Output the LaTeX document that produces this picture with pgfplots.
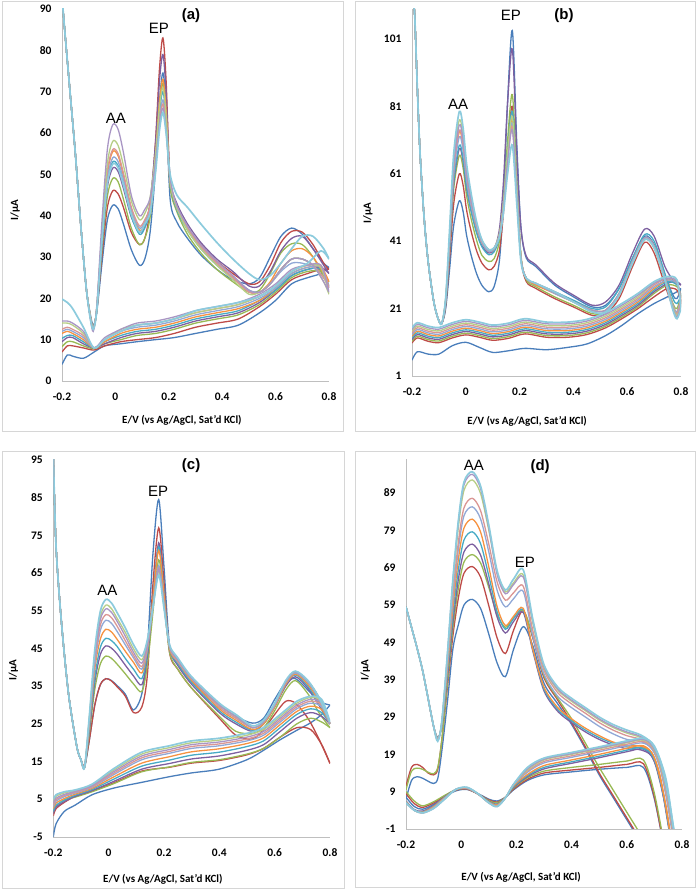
\documentclass[border=0pt]{standalone}
\usepackage{fontspec}
\setmainfont{Carlito}
\newfontfamily\lab{Liberation Sans}
\usepackage{pgfplots}
\usepackage{pgfplotstable}
\pgfplotsset{compat=1.18}
\definecolor{s1}{HTML}{4A7EBB}
\definecolor{s2}{HTML}{BE4B48}
\definecolor{s3}{HTML}{98B954}
\definecolor{s4}{HTML}{7D60A0}
\definecolor{s5}{HTML}{46AAC5}
\definecolor{s6}{HTML}{F69240}
\definecolor{s7}{HTML}{91A8D6}
\definecolor{s8}{HTML}{DA9694}
\definecolor{s9}{HTML}{B7CE86}
\definecolor{s10}{HTML}{A996C4}
\definecolor{s11}{HTML}{8CCBDD}
\tikzset{
 plab/.style={font=\lab\fontsize{15}{15}\selectfont},
 ptitle/.style={font=\lab\bfseries\fontsize{15}{15}\selectfont},
}
\pgfplotsset{
 ln1/.style={draw=s1,line width=1.3pt,smooth},
 ln2/.style={draw=s2,line width=1.3pt,smooth},
 ln3/.style={draw=s3,line width=1.3pt,smooth},
 ln4/.style={draw=s4,line width=1.3pt,smooth},
 ln5/.style={draw=s5,line width=1.3pt,smooth},
 ln6/.style={draw=s6,line width=1.3pt,smooth},
 ln7/.style={draw=s7,line width=1.3pt,smooth},
 ln8/.style={draw=s8,line width=1.3pt,smooth},
 ln9/.style={draw=s9,line width=1.3pt,smooth},
 ln10/.style={draw=s10,line width=1.3pt,smooth},
 ln11/.style={draw=s11,line width=1.7pt,smooth},
 cvaxis/.style={
  scale only axis, anchor=south west,
  xmin=-0.2, xmax=0.8,
  axis x line=bottom, axis y line=left,
  axis line style={draw=black!25, line width=0.9pt, -},
  major tick length=0pt,
  xtick={-0.2,0,0.2,0.4,0.6,0.8},
  xticklabels={-0.2,0,0.2,0.4,0.6,0.8},
  tick label style={font=\bfseries\fontsize{11.5}{13}\selectfont},
  xticklabel style={yshift=-8pt},
  yticklabel style={xshift=-7pt},
  label style={font=\bfseries\fontsize{11}{13}\selectfont},
  xlabel={E/V (vs Ag/AgCl, Sat'd KCl)},
  ylabel={I/µA},
  clip mode=individual,
 },
}

\pgfplotstableread{
x c1 c2 c3 c4 c5 c6 c7 c8 c9 c10 c11
-0.2 93 93 93 93 93 93 93 93 93 93 93
-0.19 85 85 85 85 85 85 85 85 85 85 85
-0.17 70 70 70 70 70 70 70 70 70 70 70
-0.15 55 55 55 55 55 55 55 55 55 55 55
-0.13 38 38 38 38 38 38 38 38 38 38 38
-0.11 23 23 23 23 23 23 23 23 23 23 23
-0.095 16.5 16 16 16 16 16 16 16 16 15.5 15.5
-0.083 13.5 13 13 13 13 12.8 12.8 12.5 12.5 12 12.5
-0.07 16.5 17 17 17 17 17.5 17.5 17.5 17.5 18 17
-0.05 28.6 30.5 32 33.4 34.2 35.5 34.7 35.8 36.8 39 34.4
-0.03 39 42 44.7 46.9 48.2 50.2 48.9 50.8 52.6 56.1 47.8
-0.01 42.5 46 49 51.5 53 55.5 54 56 58 62 52.5
0.01 41.7 45.3 48.2 50.7 52.1 54.5 53.1 55 57 60.9 51.6
0.03 38 42 44 46.6 47.6 49.7 48.8 50.3 52.2 55.3 47.4
0.06 31.7 35.9 36.9 39.6 39.8 41.2 41.4 42 43.5 44.8 40.3
0.09 28 33 33 36 35.5 36.5 37 37.5 39 40 36
0.11 29.5 34.5 34.5 37.5 37 38 38.5 39 40.5 41.5 38
0.13 36 41.6 39.6 43.3 41.3 42.7 42.2 42.4 44.4 44.3 40.8
0.15 51 57.8 52.3 57.3 52.5 54.5 52.3 52 54.8 52.8 50.3
0.165 67.5 75.4 66.1 72.5 64.8 67.5 63.3 62.5 66.1 62 60.6
0.178 74.5 83 72 79 70 73 68 67 71 66 65
0.19 66.5 72.5 64.8 69.7 63.4 65.5 62 61.3 64.1 60.6 59.9
0.205 44 48 47 49 48 48.5 48.5 48.5 48.5 49 50
0.23 38.5 42 41 43 41.5 42 42 42 42 42.5 45
0.27 34.5 37 35.5 38 36.5 37 37 37 36.5 37.5 42
0.32 30.5 33 31 33.5 32 32.5 32.5 32.5 32 33 38
0.38 27 29 27 29.5 28 28.5 28.5 28.5 28 29 33.5
0.44 24.5 26 24 26.5 25 25 25 25 24.5 25.5 29.5
0.50 23.5 23.5 21.5 23 22 21.8 21.8 21.5 21 22 26
0.54 25 24 22 23 21.5 21.5 21.5 21.5 21.5 21.5 24.5
0.58 30 28 26 26.5 23.5 24 23.5 23.5 23.5 23.5 25.5
0.62 35 33.5 31 31.5 27 28.5 26.5 27 27 27 28.5
0.66 37 36.2 33.2 34.5 29.5 31.5 28.5 29.5 29.5 29.5 32
0.70 35.5 36 33 35 29.5 32 28.5 29.5 29.5 29.5 35
0.74 32 33 30 32 28 30 27.5 28 28 28 35
0.78 28.5 28.5 25.5 28 25 26 25 25 24 24 32
0.80 27.5 27 24 26 23 24 22.5 22.5 21 21.5 29.5
}\Aup
\pgfplotstableread{
x c1 c2 c3 c4 c5 c6 c7 c8 c9 c10 c11
0.80 27.5 27 24 26 23 24 22.5 22.5 21 21.5 29.5
0.77 26 27 26.5 27.5 27 27.5 27.5 28 27.5 28 31.5
0.72 25 26 26.5 27 27 27.5 27.5 28 28 28 28.5
0.66 23.5 24.5 25 25.5 25.5 26 26 26.5 26.5 27 26.5
0.60 19.5 21 21.5 22 22 22.5 22.5 23 23 23.5 23
0.54 16.5 18 18.5 19 19.5 19.5 20 20.5 20.5 21 20.5
0.46 13.5 15 16 16.5 17 17.5 18 18.5 18.5 19 19
0.38 12.5 14 15 15.5 16 16.5 17 17.5 17.5 18 18
0.30 11.5 13 14 14.5 15 15.5 16 16.5 16.5 17 17
0.22 10.5 11.5 12.5 13 13.5 14 14.5 15 15 15.5 15
0.15 10 10.5 11.5 12 12.5 13 13.5 14 14 14.5 14
0.08 9.5 10 11 11.5 12 12.5 13 13.5 13.5 14 13.5
0.02 9 9.5 10 10.5 11 11.5 12 12 12.5 12.5 12
-0.04 8.5 8.5 9 9 9.5 9.5 10 10 10 10.5 10
-0.08 7 7.5 7.8 8 8 8 8 8 8 8 8
-0.12 5.5 8 8.5 9 9.5 10 10.5 11 11.5 12 13
-0.16 6 8.5 9.5 10.5 11 11.5 12 12.5 13.5 14 17.5
-0.18 6.3 8.5 9.5 10.5 11 12 12.5 13 14 14.5 19
-0.20 4 7 8.3 9.5 10.3 11.5 12 12.5 14 14.5 19.8
}\Alo

\pgfplotstableread{
x c1 c2 c3 c4 c5 c6 c7 c8 c9 c10 c11
-0.2 118 118 118 118 118 118 118 118 118 118 118
-0.19 108 108 108 108 108 108 108 108 108 108 108
-0.18 86 86 86 86 86 86 86 86 86 86 86
-0.17 67 67 67 67 67 67 67 67 67 67 67
-0.155 48 48 48 48 48 48 48 48 48 48 48
-0.14 35 35 35 35 35 35 35 35 35 35 35
-0.12 23.5 23.5 23.5 23.5 23.5 23.5 23.5 23.5 23.5 23.5 23.5
-0.105 18.5 18.5 18.5 18.5 18.5 18.5 18.5 18.5 18.5 18.5 18.5
-0.09 16.5 16.5 16.5 16.5 16.5 16.5 16.5 16.5 16.5 16.5 16.5
-0.075 20.9 21.8 22.5 22.7 22.8 23.4 23.2 23.4 23.8 23.6 24.1
-0.06 32.9 36.2 38.5 39.4 39.8 41.6 40.9 41.8 43.2 42.6 44.9
-0.045 45.7 52.1 56.5 58.1 58.9 61.5 60.9 62.5 64.9 63.7 66.9
-0.024 53 61 66.5 68.5 69.5 73.5 72 74 77 75.5 79.5
-0.01 49.8 57.6 62.7 64.7 65.6 69.2 67.9 69.7 72.3 71.1 74.6
0.003 42.7 50.2 54.5 56.7 57.2 60 59.1 60.7 62.3 61.4 63.9
0.02 36.8 43.9 47.6 49.9 50 51.9 51.6 52.7 53.9 53.3 55.1
0.04 31.4 38.2 41.3 43.7 43.5 45.1 45.2 45.6 46.2 45.9 46.8
0.06 27.9 34.5 36.8 39.7 39.3 40.5 40.4 40.8 41.2 41.1 41.4
0.085 26 32.5 35 37.5 37 38 38 38.5 38.5 38.5 38.5
0.105 27.5 33.5 35.8 38.5 37.8 38.6 38.6 39 39 39 39
0.125 35.3 38.3 41 44.6 42.1 42.7 42.6 42.9 43.3 42.8 42.2
0.14 53.1 49.5 52.3 58.7 51.9 51.7 51.3 51.5 52.3 50.9 49.4
0.155 81.8 67.4 70.6 81.6 67.6 66.1 65.4 64.8 67 64.1 60.8
0.173 103.5 81 84.5 98 79.5 77 76 75 78 74 69.5
0.19 69 57.5 59.5 66.5 57 55.5 55 54.5 56 54 51.5
0.205 45 36 37 45 36 36 36 36 36 36 35
0.225 36 29 29.5 36.5 30 30 30 30 30 30 30
0.26 33.5 27 27.5 34 28 28 28.5 28.5 28.5 28.5 28.5
0.33 28 24 24.5 28.5 26 25.5 25.5 26 26 26 26
0.40 24.5 21.5 22 25 23.5 23 23 23 23 23 23
0.47 21.5 19 19.5 22 21 20.5 20.5 20.5 20.5 20.5 20
0.52 22 19.5 20 23 21.5 20.5 20.5 20.5 20.5 20.5 20
0.57 27 24 25 28 27 25.5 25.5 25.5 25.5 25.5 25
0.62 36 33.5 34.5 37.5 36 35 35 35 35 35 34.5
0.665 42.5 40.7 41.5 44.6 43 42 42 42 42 42 41.5
0.70 40 37.5 39 42.5 41 39.5 39.5 39.5 39.5 39.5 39
0.74 31 28 29.5 33.5 31.5 30 30 30 30 30 29.5
0.77 25 21.5 22.5 29.5 24 22 22 21.5 21.5 21 20.5
0.785 24 20 21 28.5 22.5 20 20 19.5 19 18.5 18
0.80 27 23 25 28 25 24 24 23 22 22 21
}\Bup
\pgfplotstableread{
x c1 c2 c3 c4 c5 c6 c7 c8 c9 c10 c11
0.80 27 23 25 28 25 24 24 23 22 22 21
0.785 26 26.5 27.5 29 28 28.5 28.5 29 29 29 29.5
0.75 24.5 27 28 28.5 29 29.5 29.5 30 30 30 30.5
0.70 22.5 24.5 25.5 26 26.5 27 27.5 28 28.5 28.5 29
0.64 19.5 21 21.5 22 22.5 23 23.5 24 24.5 25 25.5
0.58 16 18 18.5 19 19.5 20 20.5 21 21.5 22 22.5
0.52 13 15.3 15.8 16.3 16.8 17.3 17.8 18.3 18.8 19.3 19.8
0.45 10.5 13.3 13.8 14.3 14.8 15.3 15.8 16.3 16.8 17.3 17.8
0.38 9.5 12.5 13 13.5 14 14.5 15 15.5 16 16.5 17
0.30 8.8 12.5 13 13.5 14 14.5 15 15.5 16 16.5 17
0.22 9.2 13.5 14 14.5 15 15.5 16 16.5 17 17.5 18
0.16 8.5 12.2 12.7 13.2 13.7 14.2 14.7 15.2 15.7 16.2 16.7
0.10 8 11.6 12.1 12.6 13.1 13.6 14.1 14.6 15.1 15.6 16.1
0.05 9.5 12.5 13 13.5 14 14.5 15 15.5 16 16.5 17
0.00 11 13.2 13.7 14.2 14.7 15.2 15.7 16.2 16.7 17.2 17.7
-0.05 10 12.3 12.8 13.3 13.8 14.3 14.8 15.3 15.8 16.3 16.8
-0.10 7.5 10.9 11.4 11.9 12.4 12.9 13.4 13.9 14.4 14.9 15.4
-0.14 7.5 11.3 11.8 12.3 12.8 13.3 13.8 14.3 14.8 15.3 15.8
-0.18 8.2 12.3 12.8 13.3 13.8 14.3 14.8 15.3 15.8 16.3 16.8
-0.20 5.7 10.8 11.3 11.8 12.3 12.8 13.3 13.8 14.3 14.8 15.3
}\Blo

\pgfplotstableread{
x c1 c2 c3 c4 c5 c6 c7 c8 c9 c10 c11
-0.2 97 97 97 97 97 97 97 97 97 97 97
-0.19 72 72 72 72 72 72 72 72 72 72 72
-0.17 51.5 51.5 51.5 51.5 51.5 51.5 51.5 51.5 51.5 51.5 51.5
-0.145 33 33 33 33 33 33 33 33 33 33 33
-0.115 19 19 19 19 19 19 19 19 19 19 19
-0.1 15.5 15.5 15.5 15.5 15.5 15.5 15.5 15.5 15.5 15.5 15.5
-0.087 13.5 14 13.5 13.5 13.5 13.5 13.5 13.5 13.5 13.5 13.5
-0.07 20.6 20.6 22.4 23.2 23.8 24.5 25.2 25.6 26.4 26.1 26.9
-0.05 30 30 34.2 36.1 37.3 39.6 40.8 41.8 43.6 42.9 44.7
-0.03 35.4 35.4 40.9 43.4 45.3 47.5 49.8 51.2 53.5 52.6 54.9
-0.01 37 37 43 45.7 47.7 50.1 52.5 54 56.5 55.5 58
0.01 36.5 36.4 42.4 45.1 47.1 49.4 51.7 53.2 55.6 54.6 57.1
0.03 35.2 34.9 40.9 43.6 45.6 47.5 49.6 51 53.1 52.3 54.6
0.06 32.9 32.4 38.3 40.6 42.4 44.3 46 47.1 49.3 48.3 50.5
0.09 28.7 28 35.6 37.7 39.5 41.3 42.5 43.2 44.9 44 46
0.12 33 29.5 33.6 35.4 37 38.5 39.5 40.2 42 41.1 43
0.14 45 38 40.6 42.9 44 45 45 45.4 46.7 46.1 47.3
0.16 70 62 54.5 58 58.2 58 56 55.9 56.1 55.9 55.9
0.181 84.5 77 68.5 73 72 71 67 66.3 65.5 66 64.5
0.2 66.7 62.6 58 60.4 59.9 59.3 57.1 56.7 56.3 56.5 55.7
0.22 46 44 44 45 45 45 45.5 45.5 45.5 45.5 46
0.25 41 39.5 39.5 40.5 41 41.5 41.5 41.5 42 42 42.5
0.30 36 34.5 34.5 35.5 36 36.5 37 37 37 37 37.5
0.40 30 26.5 27 28 28.5 29 29.5 29.5 30 30 30.5
0.46 27 22 23 25 25.5 26 26.5 26.5 27 27 27.5
0.52 25.2 21 22.5 23 23.3 23.5 24 24 24 24 24.5
0.56 26.5 23.5 24 25 25 25 25.5 25.5 25.5 25.5 26
0.60 31.5 27.5 28.5 29.5 29.5 29.5 30 30 30 30 30.5
0.64 36 31 34 35 35.5 35.5 36 36 36 36 36.5
0.675 37 30.5 36.5 37.5 38 38.2 38.5 38.8 38.8 38.8 39
0.72 34 26.5 33 34.5 35 35.5 36 36.3 36.3 36.3 36.5
0.76 31 21 28 30 30.5 31 31.5 32 32 32 32
0.80 30 14.5 24 25 25 25 25 25 25 25 25.5
}\Cup
\pgfplotstableread{
x c1 c2 c3 c4 c5 c6 c7 c8 c9 c10 c11
0.80 30 14.5 24 25 25 25 25 25 25 25 25.5
0.77 27.5 19.5 25.5 27 28 28.8 29.5 30 31 30.5 31.5
0.73 25.3 23.5 26.5 28 29 29.7 30.5 31 32 31.5 32.3
0.68 23.3 24 25 26.5 27.5 28.3 29 29.5 30.5 30 31
0.62 20.8 21.5 21.5 23 24 24.8 25.5 26 27 26.5 27.5
0.56 18 18.5 18.5 19.5 20.5 21.3 22 22.5 23.5 23 24
0.50 15.5 16.8 17 18 19 19.8 20.5 21 22 21.5 22.5
0.40 13 15.3 15.5 16.5 17.5 18.4 19.2 19.7 20.7 20.2 21.2
0.30 12 14.6 14.8 15.7 16.7 17.6 18.5 19 20 19.5 20.5
0.22 11 13.5 13.6 14.5 15.4 16.3 17.2 17.7 18.7 18.2 19.2
0.12 9.5 12.5 12.3 13 13.8 14.6 15.5 16 17 16.5 17.5
0.02 8 9.4 9.2 9.8 10.4 11 11.6 12 12.8 12.4 13.2
-0.06 6.2 7.2 7 7.3 7.6 7.9 8.2 8.4 8.8 8.6 9
-0.12 3.5 5.8 5.6 5.8 6.1 6.4 6.7 6.9 7.3 7.1 7.5
-0.16 1.8 4.2 4.8 4.4 4.8 5.2 5.7 6 6.7 6.3 7
-0.19 -1.5 2.5 3.2 2.9 3.4 4 4.5 4.9 5.8 5.3 6.2
-0.20 -5 0.6 1.5 1.2 1.8 2.5 3 3.5 4.5 4 5
}\Clo

\pgfplotstableread{
x c1 c2 c3 c4 c5 c6 c7 c8 c9 c10 c11
-0.2 7 10.5 9.5 58.5 58.5 58.5 58.5 58.5 58.5 58.5 58.5
-0.18 12 15.5 14.5 53 53 53 53 53 53 53 53
-0.16 13 16.3 15.3 47.5 47.5 47.5 47.5 47.5 47.5 47.5 47.5
-0.14 12.6 15.5 15 41.5 41.5 41.5 41.5 41.5 41.5 41.5 41.5
-0.12 11.8 14 14.2 34 34 34 34 34 34 34 34
-0.10 11.2 13.5 13.8 26.5 26.5 26.5 26.5 26.5 26.5 26.5 26.5
-0.085 12.5 15 15.5 23.5 23.5 23.3 23.2 23 22.8 22.7 22.5
-0.07 20 23 23 26.6 26.9 27.1 27.4 27.5 27.9 28 28
-0.05 33 37 38 39.7 40.8 41.9 43 43.7 45.2 45.7 45.9
-0.03 47.3 50.8 52.7 54.4 56.4 58.4 60.4 61.8 64.7 65.6 66
-0.01 53.8 61 63.6 66 68.6 71.4 74.1 76 80 81.2 81.8
0.01 59 67.5 70.5 73.2 76.4 79.6 82.9 85 89.7 91.2 91.9
0.04 60.5 69.3 72.5 75.3 78.6 82 85.3 87.6 92.5 94 94.7
0.07 58.1 66.5 70.3 72.4 75.5 78.6 82.1 84.3 88.9 90.2 90.9
0.10 51.2 58.8 63.7 64.6 66.8 69.2 73.2 75.3 79 79.6 80.4
0.13 43.5 50.2 56.5 55.8 57.2 58.6 63 65.2 67.9 67.2 68.2
0.16 39.8 46 53 51.5 52.5 53.5 58.5 60.3 62.5 62 63
0.19 47.2 52.3 55.5 54.6 55.4 56 60.7 62.3 65 64.5 66
0.225 53.2 57.5 57.5 57 57.7 58.1 62.6 64 67 66.5 68.4
0.26 48 50 50.5 46.5 47 47 50.5 52 54 54.5 55
0.30 38 39.5 40 36 36.5 37 40.5 41.5 42.2 42.5 43
0.35 32.5 33.5 34 30.5 31 31.5 34.5 35.5 36.2 36.5 37
0.40 27 27.5 28.5 27.5 28 28.5 31.5 32.5 33.2 33.5 34
0.45 20.5 21 22 25 25.5 26 29 30 30.7 31 31.5
0.50 13.5 14 15.5 23 23.5 24 26.5 27.5 28.2 28.5 29
0.55 7.5 8 9.5 21.5 22 22.3 24.5 25.5 26.2 26.5 27
0.60 1.5 2 3.5 20.5 21 21.3 23 24 24.7 25 25.5
0.65 -4.5 -4 -2.5 20.2 20.7 21.2 22.5 23 23.5 23.8 24.2
0.69 -9 -9 -8 18.5 19 19.5 20.5 21 21.3 21.5 22
0.72 -14 -14 -13 12.5 13 13.5 15.5 16 16.5 17 17.5
0.75 -19 -19 -18 0 0.5 1 4.5 5.5 6.5 7 8
0.78 -24 -24 -23 -14 -13.5 -13 -9.5 -8.5 -7.5 -7 -6
}\Dup
\pgfplotstableread{
x c1 c2 c3 c4 c5 c6 c7 c8 c9 c10 c11
0.78 -24 -24 -23 -14 -13.5 -13 -9.5 -8.5 -7.5 -7 -6
0.765 -18 -18 -17 -7 -6.5 -6 -2 -1 0 0.5 1.5
0.74 -8 -8 -7 5 5.5 6 10 11 12 12.5 13
0.70 7 7.5 8.5 17 17.5 18 19.5 20 20.5 20.8 21.2
0.66 15.5 16.5 17.5 20.4 20.8 21.3 22 22.4 22.8 23 23.3
0.60 15.5 16.3 17.2 19.7 20.1 20.6 21.3 21.7 22.1 22.3 22.6
0.50 15 15.5 16.3 18.1 18.5 19 19.7 20.1 20.5 20.7 21
0.40 14.3 14.8 15.5 16.6 17 17.5 18.2 18.6 19 19.2 19.5
0.30 13.5 14 14.5 15.1 15.5 16 16.7 17.1 17.5 17.7 18
0.24 12 12.3 12.7 13 13.3 13.6 14.2 14.5 14.8 15.1 15.5
0.19 9.5 9.7 10 10.2 10.4 10.6 10.8 11 11 11 11
0.16 7.5 7.5 7.5 7.4 7.4 7.4 7.3 7.3 7.3 7.3 7.3
0.13 6.5 6.2 6 5.7 5.6 5.5 5.3 5.2 5.1 5 5
0.10 7 6.8 6.6 6.4 6.3 6.2 6.1 6 6 6 6
0.06 8.5 8.4 8.4 8.4 8.4 8.4 8.4 8.4 8.5 8.5 8.5
0.02 9.6 9.7 9.8 9.8 9.9 9.9 10 10 10.1 10.1 10.2
-0.02 9.2 9.4 9.5 9.5 9.5 9.5 9.6 9.6 9.6 9.6 9.6
-0.06 7.6 7.8 8 7.6 7.5 7.4 7.3 7.2 7.1 7 7
-0.10 5.6 6 6.3 5.3 5.1 5 4.8 4.7 4.6 4.5 4.5
-0.14 4.3 4.8 5.2 3.8 3.6 3.5 3.4 3.3 3.3 3.3 3.3
-0.17 5 5.8 6.5 4.2 4.1 4 4 4 4 4 4
-0.20 7.5 8.5 9 6.5 6.4 6.3 6.2 6.1 6 6 6
}\Dlo

\begin{document}
\begin{tikzpicture}
\path[use as bounding box] (0,0) rectangle (697pt,891pt);
\draw[black!16, line width=1pt] (2pt,459pt) rectangle (343pt,889pt);
\draw[black!16, line width=1pt] (355pt,459pt) rectangle (695pt,889pt);
\draw[black!16, line width=1pt] (2pt,2pt) rectangle (344pt,439pt);
\draw[black!16, line width=1pt] (355pt,3pt) rectangle (695pt,439pt);

% (a)
\begin{axis}[cvaxis, at={(62pt,510pt)}, width=267pt, height=372pt,
  ymin=0, ymax=90, ytick={0,10,...,90},
  yticklabels={0,10,20,30,40,50,60,70,80,90},
  xlabel style={at={(axis description cs:0.449,-0.105)},anchor=center},
  ylabel style={at={(axis description cs:-0.176,0.46)},anchor=center}]
\pgfplotsinvokeforeach{1,...,11}{
 \addplot[ln#1] table[x=x,y=c#1]{\Aup};
 \addplot[ln#1] table[x=x,y=c#1]{\Alo};
}
\node[ptitle] at (axis cs:0.283,88.3) {(a)};
\node[plab] at (axis cs:0.163,85.2) {EP};
\node[plab] at (axis cs:0.002,63.6) {AA};
\end{axis}

% (b)
\begin{axis}[cvaxis, at={(412pt,515pt)}, width=269pt, height=367.3pt,
  ymin=1, ymax=110, ytick={1,21,...,101},
  yticklabels={1,21,41,61,81,101},
  xlabel style={at={(axis description cs:0.428,-0.1245)},anchor=center},
  ylabel style={at={(axis description cs:-0.164,0.443)},anchor=center}]
\pgfplotsinvokeforeach{1,...,11}{
 \addplot[ln#1] table[x=x,y=c#1]{\Bup};
 \addplot[ln#1] table[x=x,y=c#1]{\Blo};
}
\node[ptitle] at (axis cs:0.365,107.8) {(b)};
\node[plab] at (axis cs:0.168,108.1) {EP};
\node[plab] at (axis cs:-0.029,81.7) {AA};
\end{axis}

% (c)
\begin{axis}[cvaxis, at={(53.3pt,54pt)}, width=276.7pt, height=377pt,
  ymin=-5, ymax=95, ytick={-5,5,...,95},
  yticklabels={-5,5,15,25,35,45,55,65,75,85,95},
  xlabel style={at={(axis description cs:0.396,-0.112)},anchor=center},
  ylabel style={at={(axis description cs:-0.144,0.443)},anchor=center}]
\pgfplotsinvokeforeach{1,...,11}{
 \addplot[ln#1] table[x=x,y=c#1]{\Cup};
 \addplot[ln#1] table[x=x,y=c#1]{\Clo};
}
\node[ptitle] at (axis cs:0.298,93.4) {(c)};
\node[plab] at (axis cs:0.179,86.8) {EP};
\node[plab] at (axis cs:-0.005,60.3) {AA};
\end{axis}

% (d)
\begin{axis}[cvaxis, at={(406pt,62pt)}, width=276pt, height=369.6pt,
  ymin=-1, ymax=98, ytick={-1,9,...,89},
  yticklabels={-1,9,19,29,39,49,59,69,79,89},
  xlabel style={at={(axis description cs:0.417,-0.132)},anchor=center},
  ylabel style={at={(axis description cs:-0.147,0.43)},anchor=center}]
\pgfplotsinvokeforeach{1,...,11}{
 \addplot[ln#1] table[x=x,y=c#1]{\Dup};
 \addplot[ln#1] table[x=x,y=c#1]{\Dlo};
}
\node[ptitle] at (axis cs:0.286,96.2) {(d)};
\node[plab] at (axis cs:0.046,96.5) {AA};
\node[plab] at (axis cs:0.231,70.5) {EP};
\end{axis}
\end{tikzpicture}
\end{document}
